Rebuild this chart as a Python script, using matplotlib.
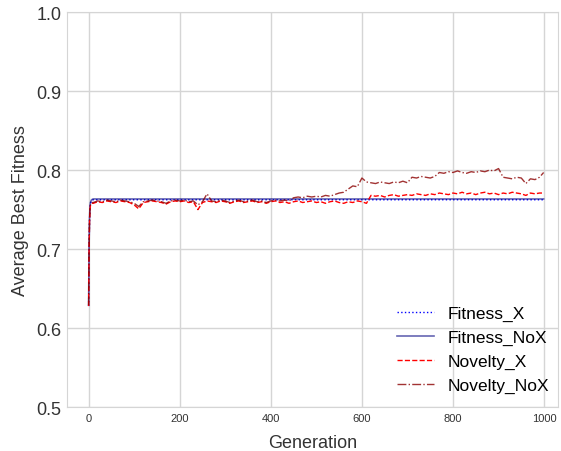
import numpy as np
import matplotlib.pyplot as plt

plt.rcParams['font.family'] = ['Liberation Sans', 'DejaVu Sans']

# early generations (steep rise), then every 10 generations
early_gens = [0, 1, 2, 3, 4, 6, 8]
late_gens = list(range(10, 1000, 10)) + [999]
gens = np.array(early_gens + late_gens)

fit_early_x = [0.628, 0.700, 0.738, 0.752, 0.758, 0.761, 0.762]
fit_early_nox = [0.629, 0.702, 0.740, 0.754, 0.759, 0.762, 0.763]
nov_early_x = [0.628, 0.698, 0.735, 0.750, 0.755, 0.757, 0.758]
nov_early_nox = [0.629, 0.699, 0.736, 0.751, 0.756, 0.758, 0.759]

fitness_x = fit_early_x + [0.7625] * len(late_gens)
fitness_nox = fit_early_nox + [0.7635] * len(late_gens)

novelty_x = nov_early_x + [
    0.758, 0.760, 0.759, 0.761, 0.760, 0.759, 0.761, 0.760, 0.759, 0.756,
    0.751, 0.759, 0.760, 0.761, 0.760, 0.759, 0.757, 0.760, 0.761, 0.760,
    0.761, 0.759, 0.760, 0.750, 0.759, 0.761, 0.760, 0.759, 0.761, 0.760,
    0.758, 0.760, 0.761, 0.759, 0.760, 0.761, 0.759, 0.760, 0.758, 0.760,
    0.761, 0.759, 0.760, 0.758, 0.760, 0.761, 0.759, 0.760, 0.761, 0.759,
    0.760, 0.758, 0.760, 0.761, 0.759, 0.758, 0.760, 0.759, 0.761, 0.760,
    0.758, 0.768, 0.767, 0.768, 0.766, 0.768, 0.769, 0.767, 0.768, 0.769,
    0.768, 0.770, 0.769, 0.768, 0.770, 0.769, 0.771, 0.770, 0.769, 0.771,
    0.770, 0.772, 0.770, 0.771, 0.769, 0.771, 0.772, 0.770, 0.771, 0.769,
    0.771, 0.770, 0.772, 0.771, 0.770, 0.768, 0.771, 0.770, 0.771, 0.771,
]

novelty_nox = nov_early_nox + [
    0.759, 0.761, 0.760, 0.762, 0.761, 0.760, 0.762, 0.761, 0.760, 0.758,
    0.754, 0.760, 0.761, 0.762, 0.761, 0.760, 0.758, 0.761, 0.762, 0.761,
    0.762, 0.760, 0.761, 0.756, 0.760, 0.770, 0.761, 0.760, 0.762, 0.761,
    0.759, 0.761, 0.762, 0.760, 0.761, 0.762, 0.760, 0.761, 0.759, 0.761,
    0.762, 0.761, 0.762, 0.761, 0.765, 0.766, 0.765, 0.767, 0.766, 0.767,
    0.766, 0.768, 0.767, 0.769, 0.771, 0.772, 0.776, 0.780, 0.779, 0.790,
    0.785, 0.784, 0.783, 0.785, 0.784, 0.783, 0.785, 0.784, 0.786, 0.784,
    0.791, 0.790, 0.792, 0.791, 0.790, 0.792, 0.797, 0.796, 0.798, 0.797,
    0.799, 0.797, 0.796, 0.798, 0.797, 0.799, 0.798, 0.800, 0.799, 0.802,
    0.791, 0.790, 0.789, 0.791, 0.790, 0.783, 0.789, 0.788, 0.791, 0.797,
]

fig = plt.figure(figsize=(5.61, 4.52), dpi=100)
ax = fig.add_axes([0.119, 0.097, 0.876, 0.874])

ax.plot(gens, fitness_x, color='blue', linestyle=':', linewidth=1, label='Fitness_X')
ax.plot(gens, fitness_nox, color='navy', linestyle='-', linewidth=1.2, alpha=0.6, label='Fitness_NoX')
ax.plot(gens, novelty_x, color='red', linestyle='--', linewidth=1, label='Novelty_X')
ax.plot(gens, novelty_nox, color='darkred', linestyle='-.', linewidth=1, alpha=0.8, label='Novelty_NoX')

ax.set_xlim(-48, 1031)
ax.set_ylim(0.5, 1.0)
ax.set_yticks([0.5, 0.6, 0.7, 0.8, 0.9, 1.0])
ax.set_xticks([0, 200, 400, 600, 800, 1000])
ax.grid(True, color='#d5d5d5', linewidth=1)
ax.set_axisbelow(True)
for s in ax.spines.values():
    s.set_color('#d5d5d5')
ax.tick_params(axis='y', labelsize=13, length=0, colors='#333333', pad=4)
ax.tick_params(axis='x', labelsize=8, length=0, colors='#333333', pad=4)
ax.set_xlabel('Generation', fontsize=13, color='#333333', labelpad=8)
ax.set_ylabel('Average Best Fitness', fontsize=13, color='#333333', labelpad=5)

ax.legend(loc='lower right', fontsize=12.5, frameon=False, handlelength=2.1,
          handletextpad=0.8, labelspacing=0.5, borderaxespad=0.4,
          bbox_to_anchor=(1.01, 0.0))

fig.savefig('out.png', dpi=100)
